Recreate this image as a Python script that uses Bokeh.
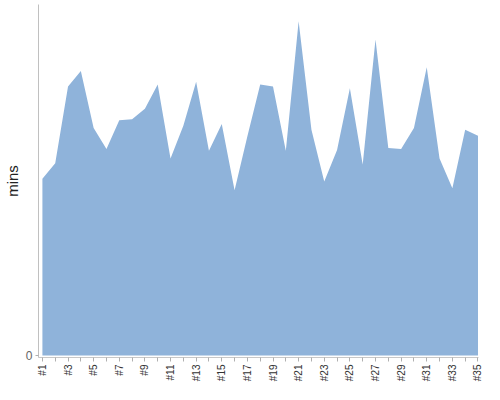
import math
from bokeh.plotting import figure
from bokeh.models import FixedTicker, Range1d
from bokeh.embed import file_html
from bokeh.resources import INLINE

categories = ["#%d" % i for i in range(1, 36)]
positions = list(range(1, 36))
mins = [50.4, 54.8, 76.7, 81.1, 64.9, 58.9, 67.1, 67.4, 70.4, 77.3,
        56.2, 65.5, 78.1, 58.4, 66.0, 47.1, 62.5, 77.3, 76.7, 58.4,
        95.3, 64.4, 49.6, 58.6, 76.2, 54.5, 90.1, 59.2, 58.9, 64.9,
        82.2, 56.2, 47.7, 64.4, 62.7]
y_ticks = [0]

p = figure(width=484, height=384, output_backend="svg", toolbar_location=None,
           x_range=Range1d(0.695, 35.04), y_range=Range1d(-0.57, 100.1),
           min_border_left=0, min_border_right=6, min_border_top=4, min_border_bottom=0)

p.varea(x=positions, y1=0, y2=mins, fill_color="#8fb3da", fill_alpha=1.0)

p.xgrid.visible = False
p.ygrid.visible = False
p.outline_line_color = None

xa = p.xaxis[0]
xa.ticker = FixedTicker(ticks=positions)
xa.major_label_overrides = {pos: (lab if pos % 2 == 1 else "") for pos, lab in zip(positions, categories)}
xa.major_label_orientation = math.pi / 2
xa.major_label_text_font = "Liberation Sans"
xa.major_label_text_font_size = "10px"
xa.major_label_text_color = "#333333"
xa.major_label_standoff = 3
xa.axis_line_color = "#c8c8c8"
xa.major_tick_line_color = "#b0b0b0"
xa.major_tick_out = 4
xa.major_tick_in = 0
xa.minor_tick_line_color = None

ya = p.yaxis[0]
ya.ticker = FixedTicker(ticks=y_ticks)
ya.axis_label = "mins"
ya.axis_label_text_font = "Liberation Sans"
ya.axis_label_text_font_size = "15px"
ya.axis_label_text_font_style = "normal"
ya.axis_label_text_color = "#222222"
ya.axis_label_standoff = 2
ya.major_label_text_font = "Liberation Sans"
ya.major_label_text_font_size = "12px"
ya.major_label_text_color = "#666666"
ya.major_label_standoff = 3
ya.axis_line_color = "#c0c0c0"
ya.major_tick_line_color = "#b0b0b0"
ya.major_tick_out = 3
ya.major_tick_in = 0
ya.minor_tick_line_color = None

open("out.html", "w").write(file_html(p, INLINE))
